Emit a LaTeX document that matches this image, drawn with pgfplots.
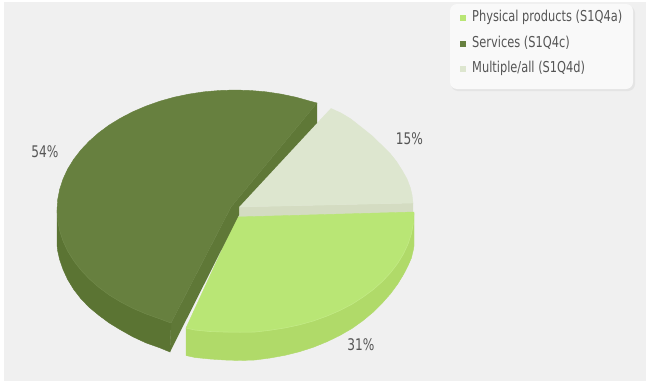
\documentclass[border=0pt]{standalone}
\usepackage{fontspec}
\setmainfont[FakeStretch=0.76]{DejaVu Sans}
\usepackage{pgfplots}
\pgfplotsset{compat=1.18}
\definecolor{panel}{HTML}{F0F0F0}
\definecolor{boxfill}{HTML}{F9F9F9}
\definecolor{boxshade}{HTML}{E4E4E4}
\definecolor{labelgrey}{HTML}{555555}
\definecolor{limetop}{HTML}{B9E675}
\definecolor{limeside}{HTML}{B0DA69}
\definecolor{limeedge}{HTML}{C2EA85}
\definecolor{darktop}{HTML}{67803F}
\definecolor{darkside}{HTML}{5B7433}
\definecolor{darkcut}{HTML}{5F7837}
\definecolor{darkedge}{HTML}{6F8848}
\definecolor{paletop}{HTML}{DDE6CF}
\definecolor{paleside}{HTML}{D4DCC2}
\begin{document}
\begin{tikzpicture}
\begin{axis}[
  width=646pt, height=383pt, scale only axis,
  xmin=0, xmax=646, ymin=0, ymax=383, y dir=reverse,
  hide axis, clip=true,
]
% page and panel
\addplot[fill=white, draw=none] coordinates {(0,0)(646,0)(646,383)(0,383)} -- cycle;
\addplot[fill=panel, draw=none] coordinates {(4,2)(646,2)(646,381)(4,381)} -- cycle;

% legend box with its soft edge
\fill[boxshade, rounded corners=7pt] (axis cs:451,6) rectangle (axis cs:635,91);
\fill[boxfill, rounded corners=7pt] (axis cs:450,4) rectangle (axis cs:633,89);
\addplot[only marks, mark=square*, mark size=2.6pt, limetop, mark options={draw=none}] coordinates {(463,18)};
\addplot[only marks, mark=square*, mark size=2.6pt, darktop, mark options={draw=none}] coordinates {(463,44)};
\addplot[only marks, mark=square*, mark size=2.6pt, paletop, mark options={draw=none}] coordinates {(463,69)};
\node[anchor=west, inner sep=0, text=labelgrey, font=\fontsize{15}{15}\selectfont] at (axis cs:472,17) {Physical products (S1Q4a)};
\node[anchor=west, inner sep=0, text=labelgrey, font=\fontsize{15}{15}\selectfont] at (axis cs:472,43) {Services (S1Q4c)};
\node[anchor=west, inner sep=0, text=labelgrey, font=\fontsize{15}{15}\selectfont] at (axis cs:472,68) {Multiple/all (S1Q4d)};

% Multiple/all, 15%
\addplot[fill=paleside, draw=none] coordinates {(235,207)(413,203)(413,213)(235,218)} -- cycle;
\addplot[fill=paletop, draw=paletop, line width=0.4pt] coordinates {
  (239,207)(331,108.5)(341,113)(350.9,119)(361,127)(372.3,136)(381,144.5)(389.7,153)(396.5,161.5)(402.5,171)(407,179)(410.4,188)(412,195)(413,203)} -- cycle;

% Physical products, 31%
\addplot[fill=limeside, draw=limeside, line width=0.4pt] coordinates {
  (414,213)(414,246)(413.3,250)(411.4,258)(408.1,265.5)(403.5,274.5)(397.7,284)(390.7,293.5)(382.5,302.8)(373.3,312)(363,320.6)(351.9,328.5)(339.8,335.5)(327,341.7)(313.5,347.2)(299.5,351.7)(285,355.3)(270.2,358)(255.2,360)(240,360.5)(224.8,360)(209.8,359)(195,357.5)(186,355.5)
  (186,328)(240,300)} -- cycle;
\addplot[fill=limetop, draw=limetop, line width=0.4pt] coordinates {
  (237,217)(414,212)(413.3,223.4)(411.4,233.7)(408.1,243.8)(403.5,253.7)(397.7,263.3)(390.7,272.5)(382.5,281.3)(373.3,289.5)(363,297.1)(351.9,304.2)(339.8,310.5)(327,316)(313.5,320.9)(299.5,324.8)(285,327.9)(270.2,330.2)(255,332)(240,332.2)(224.8,332)(209.8,331.5)(195,330)(186,328)} -- cycle;
\addplot[limeedge, line width=0.6pt] coordinates {
  (413.3,223.4)(411.4,233.7)(408.1,243.8)(403.5,253.7)(397.7,263.3)(390.7,272.5)(382.5,281.3)(373.3,289.5)(363,297.1)(351.9,304.2)(339.8,310.5)(327,316)(313.5,320.9)(299.5,324.8)(285,327.9)(270.2,330.2)(255,332)(240,332.2)(224.8,332)(209.8,331.5)(195,330)(186,328)};

% Services, 54%
\addplot[fill=darkcut, draw=none] coordinates {(231,207)(317,103)(317,123)(239,207)} -- cycle;
\addplot[fill=darkcut, draw=none] coordinates {(231,207)(239,207)(239,215)(170,352)(171,323)} -- cycle;
\addplot[fill=darkside, draw=darkside, line width=0.4pt] coordinates {
  (57,210)(57.7,220.5)(59.7,230.8)(63.1,241.1)(67.7,251)(73.7,260.7)(80.9,270)(89.2,278.8)(98.6,287.1)(109.1,294.9)(120.6,301.9)(132.9,308.3)(146,313.9)(159.8,318.8)(171,323)
  (170,352)(159.8,347.8)(146,342.9)(132.9,336.8)(120.6,329.9)(109.1,322.9)(98.6,315.1)(89.2,307.3)(80.9,298.7)(73.7,289.4)(67.7,279.6)(63.1,269.6)(59.7,259.8)(57.7,251)(57,245)} -- cycle;
\addplot[fill=darktop, draw=darktop, line width=0.4pt] coordinates {
  (231,207)(317,103)(310.2,101.2)(295.9,97.2)(281.1,94.1)(265.9,91.8)(250.5,90.5)(235,90)(219.5,90.5)(204.1,91.8)(188.9,94.1)(174.1,97.2)(159.8,101.2)(146,106.1)(132.9,111.7)(120.6,118.1)(109.1,125.1)(98.6,132.9)(89.2,141.2)(80.9,150)(73.7,159.3)(67.7,169)(63.1,178.9)(59.7,189.2)(57.7,199.5)(57,210)(57.7,220.5)(59.7,230.8)(63.1,241.1)(67.7,251)(73.7,260.7)(80.9,270)(89.2,278.8)(98.6,287.1)(109.1,294.9)(120.6,301.9)(132.9,308.3)(146,313.9)(159.8,318.8)(171,323)} -- cycle;
\addplot[darkedge, line width=0.5pt] coordinates {
  (57.7,220.5)(59.7,230.8)(63.1,241.1)(67.7,251)(73.7,260.7)(80.9,270)(89.2,278.8)(98.6,287.1)(109.1,294.9)(120.6,301.9)(132.9,308.3)(146,313.9)(159.8,318.8)(171,323)};

% slice shares
\node[text=labelgrey, inner sep=0, font=\fontsize{16}{16}\selectfont] at (axis cs:45,152) {54\%};
\node[text=labelgrey, inner sep=0, font=\fontsize{16}{16}\selectfont] at (axis cs:409.5,139) {15\%};
\node[text=labelgrey, inner sep=0, font=\fontsize{16}{16}\selectfont] at (axis cs:361,345) {31\%};
\end{axis}
\end{tikzpicture}
\end{document}
